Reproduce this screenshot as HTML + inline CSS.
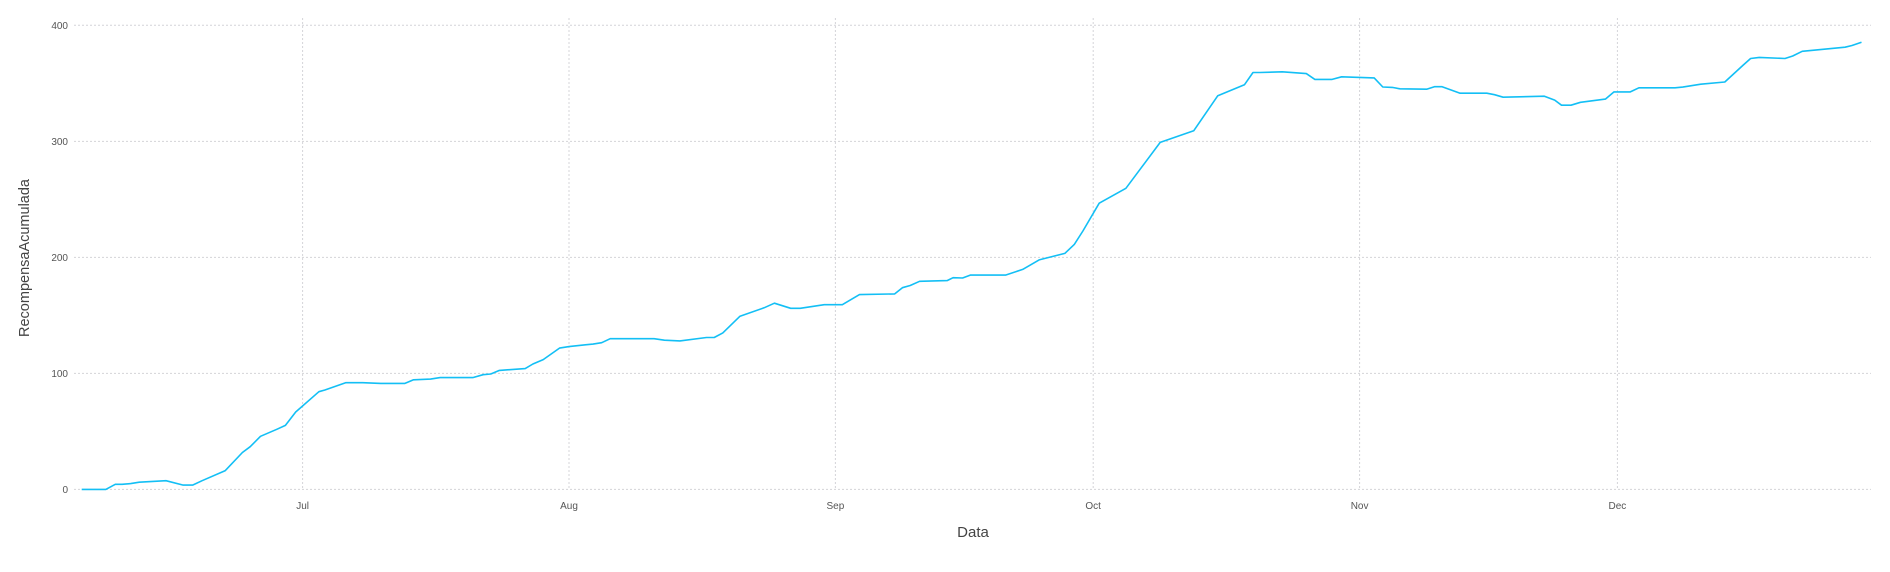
<!DOCTYPE html>
<html><head><meta charset="utf-8"><style>
html,body{margin:0;padding:0;background:#fff;}
svg text{font-family:"Liberation Sans",sans-serif;}
</style></head><body>
<svg id="chart" width="1890" height="567" viewBox="0 0 1890 567" xmlns="http://www.w3.org/2000/svg">
<g id="grid"></g>
<g id="axes"></g>
<path id="line" fill="none" stroke="#13bff5" stroke-width="1.6" stroke-linejoin="round"></path>
<text x="973" y="537" text-anchor="middle" font-size="15" fill="#444">Data</text>
<text transform="translate(29,258) rotate(-90)" text-anchor="middle" font-size="14.5" fill="#444">RecompensaAcumulada</text>
</svg>
<script>
// days since Jul 1
const days = [-25.7,-22.9,-21.8,-21.0,-20.0,-19.0,-15.9,-13.9,-12.8,-11.7,-9.0,-7.0,-6.1,-4.9,-3.0,-2.0,-0.8,1.9,2.6,5.0,7.0,9.1,11.9,12.9,14.9,16.0,19.8,21.0,21.9,22.9,25.9,26.8,28.0,29.9,31.0,32.9,33.8,34.8,35.8,40.9,42.1,43.9,47.0,47.9,48.9,50.9,53.7,54.9,56.8,57.9,60.7,62.8,64.8,68.9,69.8,70.7,71.8,75.0,75.7,76.8,77.7,81.8,83.8,85.7,88.7,89.8,90.8,92.7,95.8,99.8,103.7,106.5,109.6,110.6,111.4,114.0,116.8,117.8,119.8,120.9,124.7,125.7,126.8,127.7,130.8,131.7,132.6,134.7,137.8,138.7,139.7,144.5,145.7,146.5,147.6,148.7,151.6,152.6,154.5,155.5,159.7,160.6,162.7,165.5,167.6,168.5,169.5,172.5,173.4,174.5,179.5,180.3,181.4];
const rewards = [0,0,4.4,4.4,5.0,6.2,7.5,3.7,3.7,7.5,16.2,31.8,36.8,45.8,51.8,55.2,66.7,84.2,85.7,92.0,92.0,91.4,91.4,94.5,95.1,96.4,96.4,98.9,99.5,102.6,104.1,108.1,111.9,121.8,123.1,124.6,125.2,126.4,129.9,129.9,128.6,128.0,130.9,130.9,134.9,149.3,156.5,160.5,156.1,156.1,159.2,159.2,167.9,168.5,173.8,175.7,179.4,180.0,182.5,182.2,184.7,184.7,189.6,197.8,203.4,211.2,222.7,246.7,259.5,299.1,309.1,339.3,348.7,359.3,359.3,359.9,358.4,353.4,353.4,355.6,354.7,346.8,346.5,345.3,344.9,347.1,347.1,341.5,341.5,340.2,338.0,338.9,335.5,331.1,331.1,333.6,336.4,342.6,342.6,346.1,346.1,346.7,349.2,351.1,365.4,371.4,372.3,371.4,373.5,377.6,381.1,382.6,385.4];
const xTickLabels = ["Jul","Aug","Sep","Oct","Nov","Dec"];
const xTickDays = [0,31,62,92,123,153];
const yTicks = [0,100,200,300,400];

const X0=74, X1=1871, Y0=489.4, Y400=25.3;
function xs(d){return 302.6 + d*8.5935;}
function ys(v){return Y0 - v*(Y0-Y400)/400;}
const NS="http://www.w3.org/2000/svg";
const grid=document.getElementById('grid'), axes=document.getElementById('axes');
yTicks.forEach(v=>{
  const l=document.createElementNS(NS,'line');
  
  
  l.setAttribute('x1',X0);l.setAttribute('x2',X1);l.setAttribute('y1',ys(v));l.setAttribute('y2',ys(v));
  l.setAttribute('stroke','#d4d4d8');l.setAttribute('stroke-dasharray','2,2');l.setAttribute('stroke-width','1');
  grid.appendChild(l);
  const t=document.createElementNS(NS,'text');
  
  
  t.setAttribute('x',68);t.setAttribute('y',ys(v)+3.5);t.setAttribute('text-anchor','end');
  t.setAttribute('font-size','10');t.setAttribute('fill','#555');t.textContent=v;
  axes.appendChild(t);
});
xTickDays.forEach((d,i)=>{
  const l=document.createElementNS(NS,'line');
  
  
  l.setAttribute('x1',xs(d));l.setAttribute('x2',xs(d));l.setAttribute('y1',18);l.setAttribute('y2',Y0);
  l.setAttribute('stroke','#d4d4d8');l.setAttribute('stroke-dasharray','2,2');l.setAttribute('stroke-width','1');
  grid.appendChild(l);
  const t=document.createElementNS(NS,'text');
  
  
  t.setAttribute('x',xs(d));t.setAttribute('y',509);t.setAttribute('text-anchor','middle');
  t.setAttribute('font-size','10');t.setAttribute('fill','#555');t.textContent=xTickLabels[i];
  axes.appendChild(t);
});
document.getElementById('line').setAttribute('d',days.map((d,i)=>(i?'L':'M')+xs(d).toFixed(1)+','+ys(rewards[i]).toFixed(1)).join(''));
</script>
</body></html>
